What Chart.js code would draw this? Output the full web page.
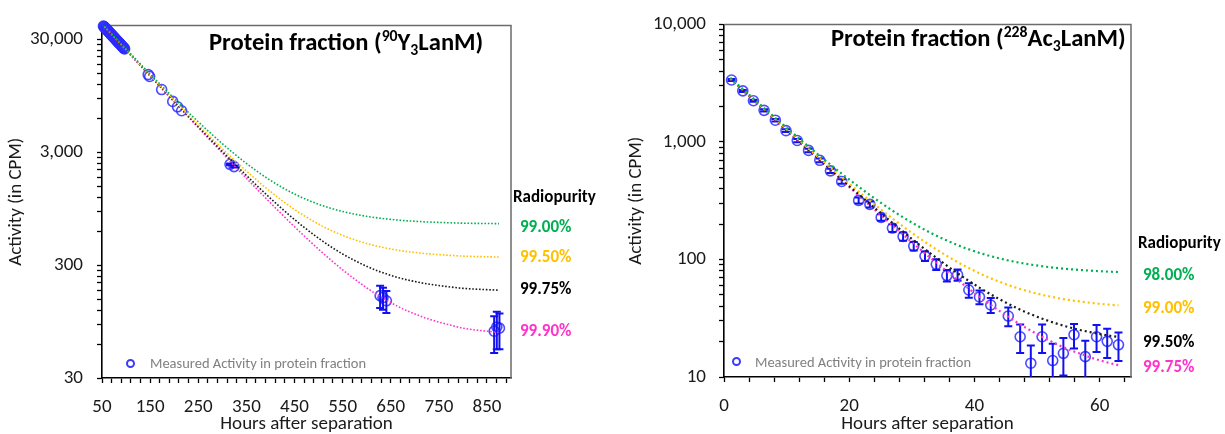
<!DOCTYPE html>
<html>
<head>
<meta charset="utf-8">
<script src="https://cdn.jsdelivr.net/npm/chart.js@4.4.1/dist/chart.umd.min.js"></script>
<style>
  html, body { margin: 0; padding: 0; background: #fff; }
  #wrap { position: relative; width: 1225px; height: 434px; overflow: hidden;
          font-family: Carlito, Lato, sans-serif; color: #111; }
  .panel { position: absolute; top: 0; height: 434px; }
  .title { position: absolute; font-weight: 700; font-size: 24.6px; line-height: 28px;
           white-space: nowrap; color: #000; }
  .title sup, .title sub { font-size: 0.64em; position: relative; vertical-align: baseline; line-height: 0; }
  .title sup { top: -0.6em; }
  .title sub { top: 0.3em; }
  .lg { position: absolute; font-weight: 700; font-size: 17px; line-height: 20px; white-space: nowrap; }
  .meas { position: absolute; font-size: 14.5px; line-height: 16px; color: #808080; white-space: nowrap; }
  .mk { position: absolute; width: 9px; height: 9px; border: 2px solid #3b3bff; border-radius: 50%; box-sizing: border-box; }
</style>
</head>
<body>
<div id="wrap">
  <div class="panel" style="left:0;width:612px"><canvas id="cY" width="612" height="434"></canvas></div>
  <div class="panel" style="left:612px;width:613px"><canvas id="cAc" width="613" height="434"></canvas></div>

  <div class="title" style="left:209px;top:28px">Protein fraction (<sup>90</sup>Y<sub>3</sub>LanM)</div>
  <div class="title" style="left:831px;top:24px">Protein fraction (<sup>228</sup>Ac<sub>3</sub>LanM)</div>

  <div class="lg" style="left:513px;top:187px;color:#000">Radiopurity</div>
  <div class="lg" style="left:520px;top:217px;color:#00B050">99.00%</div>
  <div class="lg" style="left:520px;top:247px;color:#FFC000">99.50%</div>
  <div class="lg" style="left:520px;top:279px;color:#000">99.75%</div>
  <div class="lg" style="left:520px;top:321px;color:#FF33CC">99.90%</div>

  <div class="lg" style="left:1138px;top:233px;color:#000">Radiopurity</div>
  <div class="lg" style="left:1143px;top:265px;color:#00B050">98.00%</div>
  <div class="lg" style="left:1143px;top:298px;color:#FFC000">99.00%</div>
  <div class="lg" style="left:1143px;top:332px;color:#000">99.50%</div>
  <div class="lg" style="left:1143px;top:357px;color:#FF33CC">99.75%</div>

  <div class="mk" style="left:126px;top:359px"></div>
  <div class="meas" style="left:150px;top:355px">Measured Activity in protein fraction</div>
  <div class="mk" style="left:732px;top:357px"></div>
  <div class="meas" style="left:755px;top:354px">Measured Activity in protein fraction</div>
</div>

<script>
// ---------- 90Y3LanM protein fraction ----------
const yHours = [53, 54, 55, 56, 57, 58, 59, 60, 61, 62, 63, 64, 65, 66, 67, 68, 69, 70, 71, 72, 73, 74, 75,
                76, 77, 78, 79, 80, 81, 82, 83, 84, 85, 86, 87, 88, 89, 90, 91, 92, 93, 94, 95, 96, 97,
                146, 149, 174, 197, 207, 215.5, 316, 324.5, 628, 634, 641, 865, 870.5, 876];
const yCpm   = [39500, 39080, 38670, 38270, 37860, 37460, 37060, 36670, 36280, 35900, 35520, 35150,
                34780, 34410, 34050, 33690, 33330, 32980, 32630, 32290, 31950, 31610, 31280, 30950,
                30620, 30300, 29980, 29660, 29350, 29040, 28730, 28430, 28130, 27830, 27540, 27250,
                26960, 26680, 26390, 26110, 25840, 25570, 25300, 25030, 24760,
                14650, 14100, 10800, 8480, 7600, 7010, 2350, 2240, 161, 155, 145, 78, 85, 83];
const yErr   = [0, 0, 0, 0, 0, 0, 0, 0, 0, 0, 0, 0, 0, 0, 0, 0, 0, 0, 0, 0, 0, 0, 0,
                0, 0, 0, 0, 0, 0, 0, 0, 0, 0, 0, 0, 0, 0, 0, 0, 0, 0, 0, 0, 0, 0,
                0, 0, 0, 0, 0, 0, 40, 40, 36, 34, 32, 28, 31, 29];

const yFitHours = [50, 75, 100, 125, 150, 175, 200, 225, 250, 275, 300, 325, 350, 375, 400, 425, 450,
                   475, 500, 525, 550, 575, 600, 625, 650, 675, 700, 725, 750, 775, 800, 825, 850, 875];
const yFit9900 = [41496, 32001, 24716, 19126, 14837, 11546, 9020, 7083, 5596, 4455, 3580, 2908, 2393,
                  1997, 1694, 1461, 1282, 1145, 1040, 959, 897, 850, 813, 785, 764, 747, 735, 725, 718,
                  712, 707, 704, 702, 700];
const yFit9950 = [41150, 31655, 24370, 18780, 14491, 11200, 8674, 6737, 5250, 4109, 3234, 2562, 2047,
                  1651, 1348, 1115, 936, 799, 694, 613, 551, 504, 467, 439, 418, 401, 389, 379, 372,
                  366, 361, 358, 356, 354];
const yFit9975 = [40976, 31481, 24196, 18606, 14317, 11026, 8500, 6563, 5076, 3935, 3060, 2388, 1873,
                  1477, 1174, 941, 762, 625, 520, 439, 377, 330, 293, 265, 244, 227, 215, 205, 198,
                  192, 187, 184, 182, 180];
const yFit9990 = [40872, 31377, 24092, 18502, 14213, 10922, 8396, 6459, 4972, 3831, 2956, 2284, 1769,
                  1373, 1070, 837, 658, 521, 416, 335, 273, 226, 189, 161, 140, 123, 111, 101, 94, 88,
                  83, 80, 78, 76];

const yAxisLabels = [30, 300, 3000, 30000];
const yHourLabels = [50, 150, 250, 350, 450, 550, 650, 750, 850];

// ---------- 228Ac3LanM protein fraction ----------
const acHours = [1.2, 3.0, 4.7, 6.4, 8.2, 9.9, 11.7, 13.5, 15.3, 17.0, 18.8, 21.5, 23.3, 25.1, 26.9, 28.6,
                 30.3, 32.1, 33.9, 35.6, 37.3, 39.1, 40.8, 42.6, 45.4, 47.3, 49.0, 50.8, 52.5, 54.2, 55.9,
                 57.7, 59.5, 61.2, 63.0];
const acCpm   = [3365, 2718, 2240, 1857, 1531, 1247, 1028, 847, 698, 567, 461, 318, 294, 228, 185, 157,
                 130, 107, 91, 73, 74, 55, 48, 41, 33, 22, 13.1, 22, 13.8, 15.9, 22.9, 14.9, 22, 20.1, 18.8];
const acErr   = [58, 52, 47, 43, 39, 35, 32, 29, 26, 24, 21, 18, 17, 15, 14, 13, 11, 10, 9.5, 8.2, 8.2,
                 7.8, 6.4, 6, 6, 6, 5.4, 6, 5.4, 5.6, 5.4, 5.4, 5.7, 5.6, 5.1];

const acFitHours = [1, 3, 5, 7, 9, 11, 13, 15, 17, 19, 21, 23, 25, 27, 29, 31, 33, 35, 37, 39, 41, 43, 45,
                    47, 49, 51, 53, 55, 57, 59, 61, 63];
const acFit9800 = [3509, 2816, 2263, 1822, 1470, 1188, 963.7, 784.5, 641.4, 527.1, 436, 363.1, 305, 258.6,
                   221.6, 192, 168.4, 149.6, 134.5, 122.5, 112.9, 105.3, 99.2, 94.3, 90.4, 87.3, 84.8,
                   82.8, 81.3, 80, 79, 78.2];
const acFit9900 = [3471.5, 2778.5, 2225.5, 1784.5, 1432.5, 1150.5, 926.2, 747, 603.9, 489.6, 398.5, 325.6,
                   267.5, 221.1, 184.1, 154.5, 130.9, 112.1, 97, 85, 75.4, 67.8, 61.7, 56.8, 52.9, 49.8,
                   47.3, 45.3, 43.8, 42.5, 41.5, 40.7];
const acFit9950 = [3452.8, 2759.8, 2206.8, 1765.8, 1413.8, 1131.8, 907.5, 728.3, 585.2, 470.9, 379.8,
                   306.9, 248.8, 202.4, 165.4, 135.8, 112.2, 93.4, 78.3, 66.3, 56.7, 49.1, 43, 38.1,
                   34.2, 31.1, 28.6, 26.6, 25, 23.8, 22.7, 21.9];
const acFit9975 = [3443.4, 2750.4, 2197.4, 1756.4, 1404.4, 1122.4, 898.1, 718.9, 575.8, 461.5, 370.4,
                   297.5, 239.4, 193, 156, 126.4, 102.8, 84, 68.9, 56.9, 47.3, 39.7, 33.6, 28.7, 24.8,
                   21.7, 19.2, 17.2, 15.7, 14.4, 13.4, 12.6];

const acAxisLabels = [10, 100, 1000, 10000];
const acHourLabels = [0, 20, 40, 60];

// ---------- shared drawing helpers ----------
const FONT = 'Carlito, Lato, sans-serif';
const GREEN = '#00B050', GOLD = '#FFC000', BLACK = '#1a1a1a', PINK = '#FF33CC';
const MARK = 'rgba(45,45,255,0.85)', BAR = '#1010F0';

const pts = (xs, ys) => xs.map((x, i) => ({ x, y: ys[i] }));

// Vertical error bars with caps, clipped to the plot area
const errorBars = {
  id: 'errorBars',
  afterDatasetDraw(chart, args) {
    const ds = chart.data.datasets[args.index];
    if (!ds.errors) return;
    const { ctx, chartArea: a, scales: { x, y } } = chart;
    const cap = ds.capHalf;
    ctx.save();
    ctx.beginPath();
    ctx.rect(a.left, a.top - 4, a.right - a.left, a.bottom - a.top + 4);
    ctx.clip();
    ctx.strokeStyle = BAR;
    ctx.lineWidth = ds.barWidth;
    ds.data.forEach((p, i) => {
      const e = ds.errors[i];
      if (!e) return;
      const px = x.getPixelForValue(p.x);
      const top = y.getPixelForValue(p.y + e);
      const lo = p.y - e;
      const bot = lo > 0 ? y.getPixelForValue(lo) : a.bottom + 10;
      ctx.beginPath();
      ctx.moveTo(px, top); ctx.lineTo(px, bot);
      ctx.moveTo(px - cap, top); ctx.lineTo(px + cap, top);
      ctx.moveTo(px - cap, bot); ctx.lineTo(px + cap, bot);
      ctx.stroke();
    });
    ctx.restore();
  }
};

// Grey top and right edges of the plot box
const frame = {
  id: 'frame',
  beforeDatasetsDraw(chart) {
    const { ctx, chartArea: a } = chart;
    ctx.save();
    ctx.strokeStyle = '#6b6b6b';
    ctx.lineWidth = 1.5;
    ctx.beginPath();
    ctx.moveTo(a.left, a.top);
    ctx.lineTo(a.right, a.top);
    ctx.lineTo(a.right, a.bottom);
    ctx.stroke();
    ctx.restore();
  }
};

function logTicks(decades, max) {
  const out = [];
  decades.forEach(b => { for (let m = 1; m <= 9; m++) { if (b * m <= max) out.push(b * m); } });
  return out;
}

function fitLine(label, xs, ys, color, width, dash) {
  return {
    label, data: pts(xs, ys), showLine: true, pointRadius: 0, borderColor: color,
    borderWidth: width, borderDash: dash, cubicInterpolationMode: 'monotone', order: 1, clip: 0
  };
}

function makeChart(id, o) {
  const majorTickSet = new Set(o.yLabels);
  const xLabelSet = new Set(o.xLabels);
  const axisLine = { display: true, color: '#000', width: 1.6 };
  const gridTicks = { display: true, drawOnChartArea: false, drawTicks: true, tickLength: 5,
                      tickColor: '#000', tickWidth: 1.3 };
  return new Chart(document.getElementById(id), {
    type: 'scatter',
    data: {
      datasets: [
        {
          label: 'Measured Activity in protein fraction',
          data: pts(o.hours, o.cpm), errors: o.err, capHalf: 4, barWidth: 2,
          pointStyle: 'circle', pointRadius: 5, pointBorderWidth: 1.6,
          pointBorderColor: MARK, pointBackgroundColor: 'rgba(0,0,0,0)', order: 5, clip: false
        },
        ...o.fits
      ]
    },
    options: {
      responsive: false, animation: false, devicePixelRatio: 1,
      layout: { padding: o.padding },
      plugins: { legend: { display: false }, tooltip: { enabled: false } },
      scales: {
        x: {
          type: 'linear', min: o.xMin, max: o.xMax,
          border: axisLine, grid: gridTicks,
          afterBuildTicks(s) {
            const t = [];
            for (let v = o.xMin; v <= o.xMax; v += o.xStep) t.push({ value: v });
            s.ticks = t;
          },
          afterFit(s) { s.height = o.xAxisHeight; },
          ticks: {
            autoSkip: false, maxRotation: 0, padding: o.xTickPad, color: '#1a1a1a',
            font: { family: FONT, size: 19 },
            callback: v => (xLabelSet.has(v) ? String(v) : '')
          },
          title: { display: true, text: 'Hours after separation', color: '#1a1a1a',
                   font: { family: FONT, size: 19, lineHeight: 1 }, padding: { top: 0, bottom: 0 } }
        },
        y: {
          type: 'logarithmic', min: o.yMin, max: o.yMax,
          border: axisLine, grid: gridTicks,
          afterBuildTicks(s) { s.ticks = logTicks(o.yLabels, o.yMax).map(v => ({ value: v })); },
          afterFit(s) { s.width = o.yAxisWidth; },
          ticks: {
            autoSkip: false, padding: o.yTickPad, color: '#1a1a1a',
            font: { family: FONT, size: 19 },
            callback: v => (majorTickSet.has(v) ? v.toLocaleString('en-US') : '')
          },
          title: { display: true, text: 'Activity (in CPM)', color: '#1a1a1a',
                   font: { family: FONT, size: 19, lineHeight: 1 }, padding: { top: o.yTitlePad, bottom: 0 } }
        }
      }
    },
    plugins: [frame, errorBars]
  });
}

// Left panel: 90Y
makeChart('cY', {
  hours: yHours, cpm: yCpm, err: yErr,
  fits: [
    fitLine('99.00%', yFitHours, yFit9900, GREEN, 1.6, [1.6, 1.8]),
    fitLine('99.50%', yFitHours, yFit9950, GOLD, 1.6, [1.6, 1.8]),
    fitLine('99.75%', yFitHours, yFit9975, BLACK, 1.6, [1.6, 1.8]),
    fitLine('99.90%', yFitHours, yFit9990, PINK, 1.6, [1.6, 1.8])
  ],
  xMin: 50, xMax: 900, xStep: 20, xLabels: yHourLabels,
  yMin: 30, yMax: 40000, yLabels: yAxisLabels,
  padding: { left: 0, right: 101, top: 22, bottom: 0 },
  yAxisWidth: 102, xAxisHeight: 56, xTickPad: 13, yTickPad: 14, yTitlePad: 7
});

// Right panel: 228Ac
makeChart('cAc', {
  hours: acHours, cpm: acCpm, err: acErr,
  fits: [
    fitLine('98.00%', acFitHours, acFit9800, GREEN, 2.2, [2, 3]),
    fitLine('99.00%', acFitHours, acFit9900, GOLD, 2.2, [2, 3]),
    fitLine('99.50%', acFitHours, acFit9950, BLACK, 2.2, [2, 3]),
    fitLine('99.75%', acFitHours, acFit9975, PINK, 2.2, [2, 3])
  ],
  xMin: 0, xMax: 65, xStep: 4, xLabels: acHourLabels,
  yMin: 10, yMax: 10000, yLabels: acAxisLabels,
  padding: { left: 0, right: 94, top: 19, bottom: 0 },
  yAxisWidth: 112, xAxisHeight: 57, xTickPad: 13, yTickPad: 13, yTitlePad: 15
});
</script>
</body>
</html>
